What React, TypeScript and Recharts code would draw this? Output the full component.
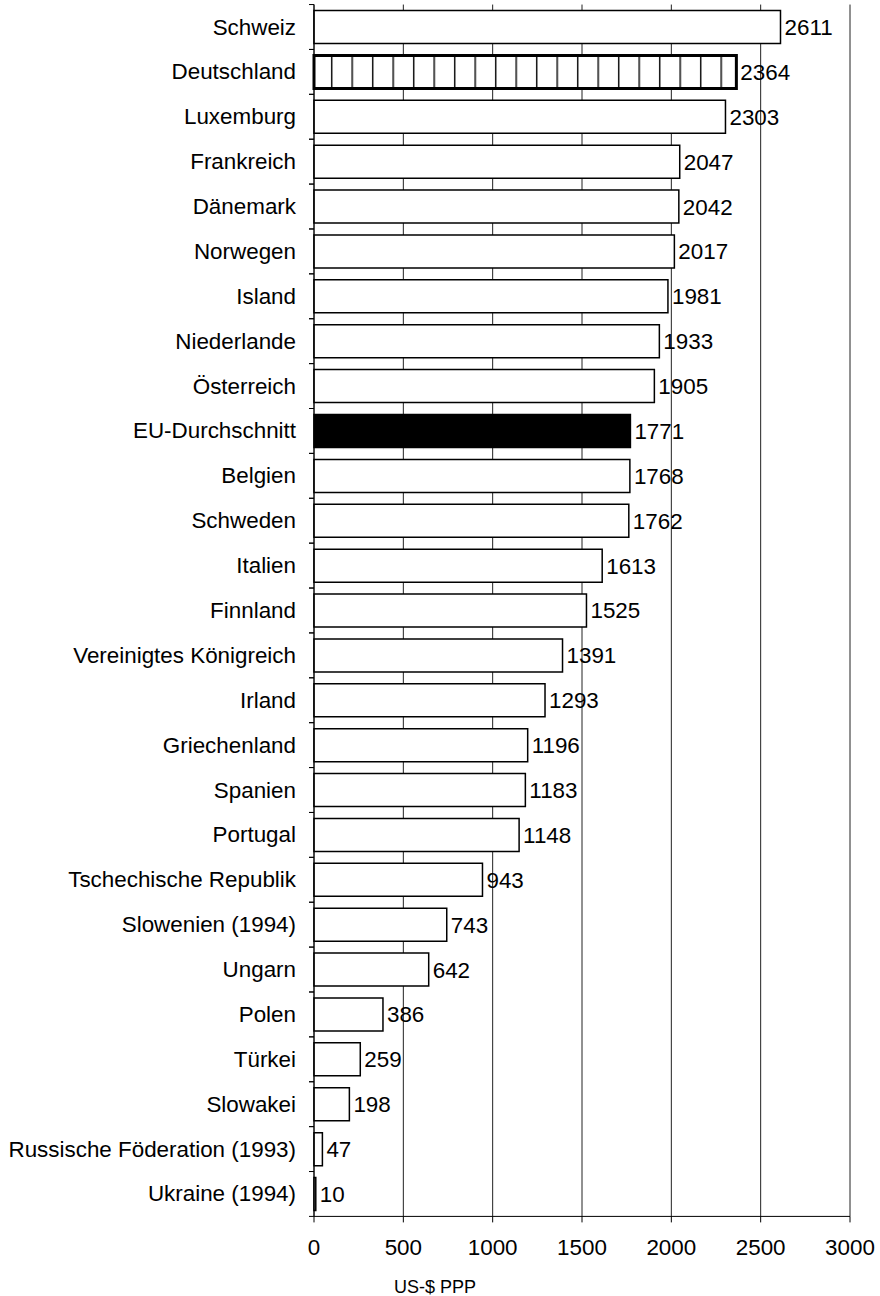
import { BarChart, Bar, XAxis, YAxis, CartesianGrid, Cell, LabelList } from "recharts";

const countries = [
  "Schweiz",
  "Deutschland",
  "Luxemburg",
  "Frankreich",
  "Dänemark",
  "Norwegen",
  "Island",
  "Niederlande",
  "Österreich",
  "EU-Durchschnitt",
  "Belgien",
  "Schweden",
  "Italien",
  "Finnland",
  "Vereinigtes Königreich",
  "Irland",
  "Griechenland",
  "Spanien",
  "Portugal",
  "Tschechische Republik",
  "Slowenien (1994)",
  "Ungarn",
  "Polen",
  "Türkei",
  "Slowakei",
  "Russische Föderation (1993)",
  "Ukraine (1994)",
];

const values = [
  2611, 2364, 2303, 2047, 2042, 2017, 1981, 1933, 1905, 1771, 1768, 1762, 1613, 1525,
  1391, 1293, 1196, 1183, 1148, 943, 743, 642, 386, 259, 198, 47, 10,
];

const xTicks = [0, 500, 1000, 1500, 2000, 2500, 3000];

const HATCHED = "Deutschland";
const AVERAGE = "EU-Durchschnitt";

const data = countries.map((c, i) => ({ country: c, value: values[i] }));

const W = 880;
const H = 1296;
const TOP = 4.56;
const AXIS_H = 79.6;
const LEFT = 314;
const RIGHT = 30;
const BAND = (H - TOP - AXIS_H) / countries.length;
const FONT = "'Liberation Sans', Arial, sans-serif";
const FS = 22.4;

function CountryTick(props: any) {
  const { y, payload } = props;
  return (
    <g>
      <line x1={LEFT - 5} x2={LEFT} y1={y - BAND / 2} y2={y - BAND / 2} stroke="#000" />
      <line x1={LEFT - 5} x2={LEFT} y1={y + BAND / 2} y2={y + BAND / 2} stroke="#000" />
      <text
        x={LEFT - 18}
        y={y}
        textAnchor="end"
        dominantBaseline="central"
        fontSize={FS}
        fill="#000"
        fontFamily={FONT}
      >
        {payload.value}
      </text>
    </g>
  );
}

export default function App() {
  return (
    <div style={{ position: "absolute", left: 0, top: 0, fontFamily: FONT, background: "#fff" }}>
      <BarChart
        width={W}
        height={H}
        data={data}
        layout="vertical"
        margin={{ top: TOP, right: RIGHT, left: 0, bottom: 0 }}
        barSize={33}
      >
        <defs>
          <pattern id="vlines" patternUnits="userSpaceOnUse" x={0} y={0} width={20.5} height={10}>
            <rect x={0} y={0} width={20.5} height={10} fill="#fff" />
            <line x1={3.7} x2={3.7} y1={0} y2={10} stroke="#000" strokeWidth={1.4} />
          </pattern>
        </defs>
        <CartesianGrid horizontal={false} vertical stroke="#222" strokeWidth={1} />
        <XAxis
          type="number"
          domain={[0, 3000]}
          ticks={xTicks}
          height={AXIS_H}
          tickSize={6}
          tickMargin={17}
          stroke="#000"
          tick={{ fill: "#000", fontSize: FS, fontFamily: FONT }}
          axisLine={{ stroke: "#000" }}
          tickLine={{ stroke: "#000" }}
          label={{
            value: "US-$ PPP",
            content: (p: any) => {
              const vb = p.viewBox || { x: LEFT, y: H - AXIS_H };
              return (
                <text
                  x={vb.x + 121}
                  y={vb.y + 71}
                  textAnchor="middle"
                  dominantBaseline="central"
                  fontSize={18}
                  fill="#000"
                  fontFamily={FONT}
                >
                  US-$ PPP
                </text>
              );
            },
          }}
        />
        <YAxis
          type="category"
          dataKey="country"
          width={LEFT}
          interval={0}
          tickLine={false}
          axisLine={{ stroke: "#000" }}
          tick={<CountryTick />}
        />
        <Bar dataKey="value" isAnimationActive={false} stroke="#000" strokeWidth={1.5}>
          {data.map((d) => (
            <Cell
              key={d.country}
              fill={d.country === AVERAGE ? "#000" : d.country === HATCHED ? "url(#vlines)" : "#fff"}
              strokeWidth={d.country === HATCHED ? 3 : 1.5}
            />
          ))}
          <LabelList
            dataKey="value"
            position="right"
            offset={4}
            fill="#000"
            fontSize={FS}
            fontFamily={FONT}
          />
        </Bar>
      </BarChart>
    </div>
  );
}
